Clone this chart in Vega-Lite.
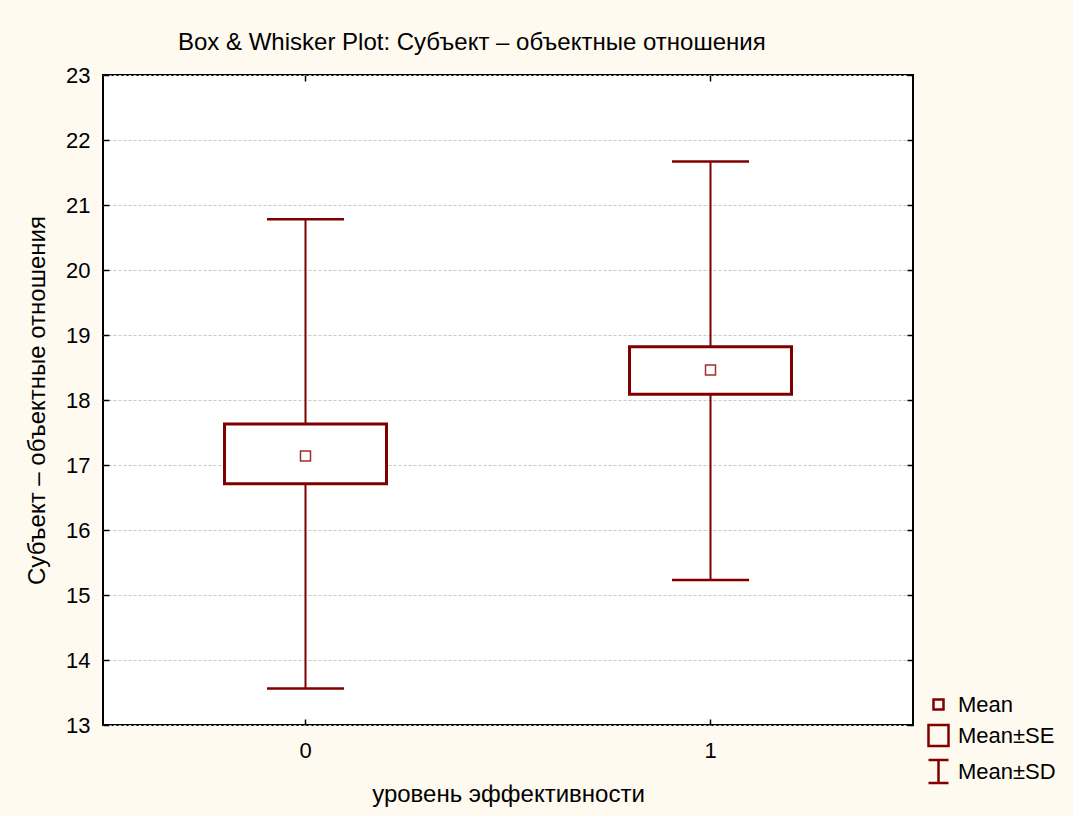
{
  "$schema": "https://vega.github.io/schema/vega-lite/v6.json",
  "width": 810,
  "height": 650,
  "autosize": {"type": "none"},
  "padding": {"left": 103, "top": 75, "right": 160, "bottom": 91},
  "background": "#fefaf0",
  "title": {
    "text": "Box & Whisker Plot: Субъект – объектные отношения",
    "anchor": "start",
    "frame": "group",
    "dx": 75,
    "offset": 9,
    "font": "Liberation Sans",
    "fontSize": 24,
    "fontWeight": "normal",
    "color": "black"
  },
  "config": {
    "view": {"fill": "white", "stroke": "black", "strokeWidth": 2},
    "axis": {
      "labelFont": "Liberation Sans",
      "titleFont": "Liberation Sans",
      "labelFontSize": 22,
      "titleFontSize": 24,
      "titleFontWeight": "normal",
      "labelColor": "black",
      "titleColor": "black",
      "domain": false,
      "tickColor": "black",
      "tickWidth": 1.5
    },
    "legend": {
      "labelFont": "Liberation Sans",
      "labelFontSize": 22,
      "labelColor": "black"
    }
  },
  "data": {
    "values": [
      {"level": "0", "mean": 17.14, "se_lo": 16.71, "se_hi": 17.63, "sd_lo": 13.56, "sd_hi": 20.78},
      {"level": "1", "mean": 18.46, "se_lo": 18.09, "se_hi": 18.82, "sd_lo": 15.23, "sd_hi": 21.67}
    ]
  },
  "encoding": {
    "x": {
      "field": "level",
      "type": "nominal",
      "scale": {"type": "band", "domain": ["0", "1"], "paddingInner": 0, "paddingOuter": 0}
    }
  },
  "layer": [
    {
      "mark": {"type": "rule", "color": "#800000", "strokeWidth": 2},
      "encoding": {
        "x": {
          "field": "level",
          "type": "nominal",
          "axis": {"orient": "bottom", "title": "уровень эффективности", "labelAngle": 0, "tickSize": -6, "labelPadding": 21, "titlePadding": 21, "grid": false}
        },
        "y": {
          "field": "sd_lo",
          "type": "quantitative",
          "scale": {"domain": [13, 23], "nice": false, "zero": false},
          "axis": {
            "orient": "left",
            "title": "Субъект – объектные отношения",
            "values": [13, 14, 15, 16, 17, 18, 19, 20, 21, 22, 23],
            "tickSize": -6,
            "labelPadding": 19,
            "titlePadding": 16,
            "grid": true,
            "gridColor": "#c8c8c8",
            "gridDash": [3, 2],
            "gridWidth": 1
          }
        },
        "y2": {"field": "sd_hi"}
      }
    },
    {
      "mark": {"type": "bar", "fill": "white", "stroke": "#800000", "strokeWidth": 3, "width": {"band": 0.4}},
      "encoding": {
        "x": {
          "field": "level",
          "type": "nominal",
          "axis": {"orient": "top", "title": null, "labels": false, "tickSize": -6, "grid": false}
        },
        "y": {
          "field": "se_lo",
          "type": "quantitative",
          "axis": {"orient": "right", "title": null, "labels": false, "tickSize": -6, "grid": false, "values": [13, 14, 15, 16, 17, 18, 19, 20, 21, 22, 23]}
        },
        "y2": {"field": "se_hi"}
      }
    },
    {
      "mark": {"type": "tick", "color": "#800000", "opacity": 1, "thickness": 2.5, "size": 77, "orient": "horizontal"},
      "encoding": {
        "x": {"field": "level", "type": "nominal", "axis": null},
        "y": {"field": "sd_lo", "type": "quantitative", "axis": null}
      }
    },
    {
      "mark": {"type": "tick", "color": "#800000", "opacity": 1, "thickness": 2.5, "size": 77, "orient": "horizontal"},
      "encoding": {
        "x": {"field": "level", "type": "nominal", "axis": null},
        "y": {"field": "sd_hi", "type": "quantitative", "axis": null}
      }
    },
    {
      "mark": {"type": "point", "filled": false, "stroke": "#a03030", "strokeWidth": 1.5, "size": 400, "opacity": 1},
      "encoding": {
        "x": {"field": "level", "type": "nominal", "axis": null},
        "y": {"field": "mean", "type": "quantitative", "axis": null},
        "shape": {
          "datum": "Mean",
          "type": "nominal",
          "scale": {
            "domain": ["Mean", "Mean±SE", "Mean±SD"],
            "range": [
              "M-0.5,-0.5H0.5V0.5H-0.5Z",
              "M-1,-1.05H1V1.05H-1Z",
              "M-1,-1.15H1M0,-1.15V1.15M-1,1.15H1"
            ]
          },
          "legend": {
            "orient": "none",
            "legendX": 824,
            "legendY": 618,
            "title": null,
            "symbolSize": 400,
            "symbolStrokeColor": "#800000",
            "symbolFillColor": "transparent",
            "symbolStrokeWidth": 2.5,
            "labelOffset": 8,
            "rowPadding": 4
          }
        }
      }
    }
  ],
  "resolve": {"axis": {"x": "independent", "y": "independent"}}
}
